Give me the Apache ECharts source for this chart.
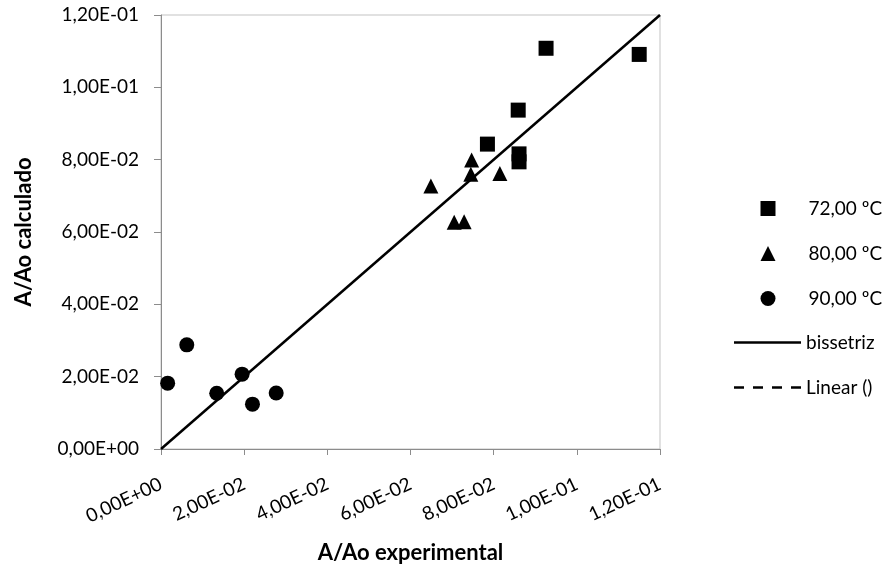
<!DOCTYPE html>
<html>
<head>
<meta charset="utf-8">
<script src="https://cdn.jsdelivr.net/npm/echarts@6/dist/echarts.min.js"></script>
<style>
  html, body { margin: 0; padding: 0; background: #fff; }
  #chart { width: 891px; height: 569px; }
</style>
</head>
<body>
<div id="chart"></div>
<script>
// tick labels (excel scientific format, comma decimal)
var tickLabels = ['0,00E+00', '2,00E-02', '4,00E-02', '6,00E-02', '8,00E-02', '1,00E-01', '1,20E-01'];

// 72 ºC  [experimental, calculado]
var s72 = [
  [0.0926, 0.1108],
  [0.1150, 0.1091],
  [0.0859, 0.0937],
  [0.0785, 0.0843],
  [0.0861, 0.0816],
  [0.0861, 0.0794]
];
// 80 ºC
var s80 = [
  [0.0747, 0.0799],
  [0.0745, 0.0760],
  [0.0649, 0.0727],
  [0.0815, 0.0762],
  [0.0705, 0.0627],
  [0.0729, 0.0628]
];
// 90 ºC
var s90 = [
  [0.0016, 0.0182],
  [0.0062, 0.0288],
  [0.0134, 0.0154],
  [0.0195, 0.0207],
  [0.0220, 0.0124],
  [0.0277, 0.0155]
];
// bissetriz y = x
var bissetriz = [[0, 0], [0.12, 0.12]];

var fontTxt = 'Lato, "Open Sans", sans-serif';

function fmt(v) {
  return tickLabels[Math.round(v / 0.02)];
}

var chart = echarts.init(document.getElementById('chart'));
var option = {
  animation: false,
  backgroundColor: '#fff',
  textStyle: { fontFamily: fontTxt },
  grid: {
    left: 161, right: 231, top: 15, bottom: 120,
    show: true, borderColor: '#c3c3c3', borderWidth: 1
  },
  legend: [
    {
      // marker entries
      orient: 'vertical',
      left: 755.5,
      top: 194,
      itemWidth: 15,
      itemHeight: 15,
      itemGap: 26,
      textStyle: { fontSize: 19, color: '#000', fontFamily: fontTxt, padding: [0, 0, 0, 28] },
      data: [
        { name: '72,00 ºC', icon: 'rect' },
        { name: '80,00 ºC', icon: 'triangle' },
        { name: '90,00 ºC', icon: 'circle' }
      ]
    },
    {
      // line entries
      orient: 'vertical',
      left: 729,
      top: 328,
      itemWidth: 67,
      itemHeight: 2.5,
      itemGap: 26,
      textStyle: { fontSize: 19, color: '#000', fontFamily: fontTxt },
      data: [
        { name: 'bissetriz', icon: 'path://M0,0h67v2.5h-67z' },
        { name: 'Linear ()', icon: 'path://M0,0h10v2.5h-10zM19,0h10v2.5h-10zM38,0h10v2.5h-10zM57,0h10v2.5h-10z' }
      ]
    }
  ],
  xAxis: {
    type: 'value',
    min: 0, max: 0.12, interval: 0.02,
    name: 'A/Ao experimental',
    nameLocation: 'middle',
    nameGap: 93,
    nameTextStyle: { fontSize: 22, fontWeight: 'bold', color: '#000' },
    axisLine: { onZero: false, lineStyle: { color: '#8c8c8c', width: 1 } },
    axisTick: { show: true, length: 6, lineStyle: { color: '#8c8c8c' } },
    splitLine: { show: false },
    axisLabel: {
      rotate: 25, margin: 34, fontSize: 19, color: '#000',
      formatter: fmt
    }
  },
  yAxis: {
    type: 'value',
    min: 0, max: 0.12, interval: 0.02,
    name: 'A/Ao calculado',
    nameLocation: 'middle',
    nameGap: 126,
    nameTextStyle: { fontSize: 22, fontWeight: 'bold', color: '#000' },
    axisLine: { show: true, onZero: false, lineStyle: { color: '#8c8c8c', width: 1 } },
    axisTick: { show: true, length: 7, lineStyle: { color: '#8c8c8c' } },
    splitLine: { show: false },
    axisLabel: { margin: 22, fontSize: 19, color: '#000', formatter: fmt }
  },
  series: [
    {
      name: '72,00 ºC', type: 'scatter', symbol: 'rect', symbolSize: 15,
      itemStyle: { color: '#000', opacity: 1 }, data: s72
    },
    {
      name: '80,00 ºC', type: 'scatter', symbol: 'triangle', symbolSize: 15,
      itemStyle: { color: '#000', opacity: 1 }, data: s80
    },
    {
      name: '90,00 ºC', type: 'scatter', symbol: 'circle', symbolSize: 15,
      itemStyle: { color: '#000', opacity: 1 }, data: s90
    },
    {
      name: 'bissetriz', type: 'line', symbol: 'none',
      lineStyle: { color: '#000', width: 2.5 },
      itemStyle: { color: '#000' },
      data: bissetriz
    },
    {
      // trendline entry shown only in the legend
      name: 'Linear ()', type: 'line', symbol: 'none',
      lineStyle: { color: '#000', width: 2.5, type: [10, 9] },
      itemStyle: { color: '#000' },
      data: []
    }
  ]
};
chart.setOption(option);
</script>
</body>
</html>
